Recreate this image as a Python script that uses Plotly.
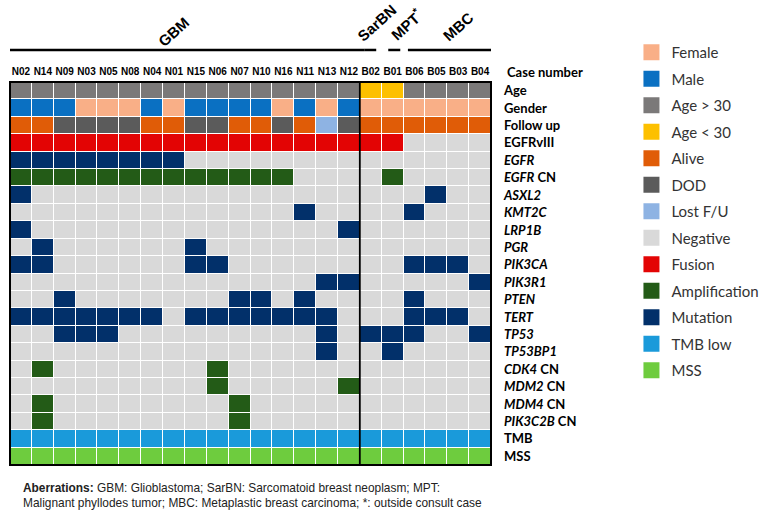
import plotly.graph_objects as go

cases = ["N02", "N14", "N09", "N03", "N05", "N08", "N04", "N01", "N15", "N06", "N07",
         "N10", "N16", "N11", "N13", "N12", "B02", "B01", "B06", "B05", "B03", "B04"]

row_labels = ["<b>Age</b>", "<b>Gender</b>", "<b>Follow up</b>", "<b>EGFRvIII</b>",
              "<b><i>EGFR</i></b>", "<b><i>EGFR</i> CN</b>", "<b><i>ASXL2</i></b>",
              "<b><i>KMT2C</i></b>", "<b><i>LRP1B</i></b>", "<b><i>PGR</i></b>",
              "<b><i>PIK3CA</i></b>", "<b><i>PIK3R1</i></b>", "<b><i>PTEN</i></b>",
              "<b><i>TERT</i></b>", "<b><i>TP53</i></b>", "<b><i>TP53BP1</i></b>",
              "<b><i>CDK4</i> CN</b>", "<b><i>MDM2</i> CN</b>", "<b><i>MDM4</i> CN</b>",
              "<b><i>PIK3C2B</i> CN</b>", "<b>TMB</b>", "<b>MSS</b>"]

# codes: F Female, M Male, O Age>30, Y Age<30, A Alive, D DOD, L Lost F/U,
# N Negative, X Fusion, P Amplification, U Mutation, T TMB low, S MSS
age        = list("OOOOOOOOOOOOOOOOYYOOOO")
gender     = list("MMMFFFMFMMMMFMFMFFFFFF")
followup   = list("AADDDDAADDAADALDAAAAAA")
egfrviii   = list("XXXXXXXXXXXXXXXXXXNNNN")
egfr       = list("UUUUUUUUNNNNNNNNNNNNNN")
egfr_cn    = list("PPPPPPPPPPPPPNNNNPNNNN")
asxl2      = list("UNNNNNNNNNNNNNNNNNNUNN")
kmt2c      = list("NNNNNNNNNNNNNUNNNNUNNN")
lrp1b      = list("UNNNNNNNNNNNNNNUNNNNNN")
pgr        = list("NUNNNNNNUNNNNNNNNNNNNN")
pik3ca     = list("UUNNNNNNUUNNNNNNNNUUUN")
pik3r1     = list("NNNNNNNNNNNNNNUUNNNNNU")
pten       = list("NNUNNNNNNNUUNUNNNNUNNN")
tert       = list("UUUUUUUNUUUUUUUNNNUUUN")
tp53       = list("NNUUUNNNNNNNNNUNUUUNNU")
tp53bp1    = list("NNNNNNNNNNNNNNUNNUNNNN")
cdk4_cn    = list("NPNNNNNNNPNNNNNNNNNNNN")
mdm2_cn    = list("NNNNNNNNNPNNNNNPNNNNNN")
mdm4_cn    = list("NPNNNNNNNNPNNNNNNNNNNN")
pik3c2b_cn = list("NPNNNNNNNNPNNNNNNNNNNN")
tmb        = list("TTTTTTTTTTTTTTTTTTTTTT")
mss        = list("SSSSSSSSSSSSSSSSSSSSSS")

rows = [age, gender, followup, egfrviii, egfr, egfr_cn, asxl2, kmt2c, lrp1b, pgr,
        pik3ca, pik3r1, pten, tert, tp53, tp53bp1, cdk4_cn, mdm2_cn, mdm4_cn,
        pik3c2b_cn, tmb, mss]

legend_codes = ["F", "M", "O", "Y", "A", "D", "L", "N", "X", "P", "U", "T", "S"]
legend_names = ["Female", "Male", "Age > 30", "Age < 30", "Alive", "DOD", "Lost F/U",
                "Negative", "Fusion", "Amplification", "Mutation", "TMB low", "MSS"]
legend_colors = ["#F9AF87", "#0A70C2", "#7B7979", "#FDC000", "#E05C07", "#5B5B5B",
                 "#8EB3E3", "#D9D9D9", "#E30404", "#235B17", "#02306A", "#1A9ADA",
                 "#6ECC3E"]

code_idx = {c: i for i, c in enumerate(legend_codes)}
z = [[code_idx[v] for v in r] for r in rows]
n = len(legend_codes)
colorscale = []
for i, c in enumerate(legend_colors):
    colorscale.append([i / n, c])
    colorscale.append([(i + 1) / n, c])

xs = list(range(len(cases)))
ys = list(range(len(rows)))

fig = go.Figure()
fig.add_trace(go.Heatmap(
    z=z, x=xs, y=ys, colorscale=colorscale, zmin=-0.5, zmax=n - 0.5,
    showscale=False, xgap=1, ygap=1, hoverinfo="skip", showlegend=False))

for name, col in zip(legend_names, legend_colors):
    fig.add_trace(go.Scatter(
        x=[None], y=[None], mode="markers", name=name, legendgroup=name,
        marker=dict(symbol="square", size=16, color=col)))

# frame and divider
fig.add_shape(type="rect", xref="paper", yref="paper", x0=0, x1=1, y0=0, y1=1,
              line=dict(color="black", width=2))
fig.add_shape(type="line", xref="x", yref="paper", x0=15.5, x1=15.5, y0=0, y1=1,
              line=dict(color="black", width=1.8))

# group lines
line_y = 1.0836
for x0, x1 in [(-0.5, 15.7), (16 - 0.3, 16 + 0.25), (17 - 0.2, 17 + 0.35), (17.7, 21.5)]:
    fig.add_shape(type="line", xref="x", yref="paper", x0=x0, x1=x1, y0=line_y, y1=line_y,
                  line=dict(color="black", width=2.5))

group_font = dict(family="Arial, Liberation Sans", size=15, color="black")
for txt, gx, gy in [("<b>GBM</b>", 7.0, 1.132), ("<b>SarBN</b>", 16.3, 1.155),
                    ("<b>MPT<sup>*</sup></b>", 17.65, 1.152), ("<b>MBC</b>", 20.0, 1.145)]:
    fig.add_annotation(text=txt, x=gx, y=gy, xref="x", yref="paper", showarrow=False,
                       textangle=-42, font=group_font, xanchor="center", yanchor="middle")

fig.add_annotation(text="<b>Case number</b>", x=1.0287, y=1.026, xref="paper", yref="paper",
                   showarrow=False, xanchor="left", yanchor="middle",
                   font=dict(family="Lato", size=13, color="black"))

fig.add_annotation(
    text="<b>Aberrations:</b> GBM: Glioblastoma; SarBN: Sarcomatoid breast neoplasm; MPT:<br>"
         "Malignant phyllodes tumor; MBC: Metaplastic breast carcinoma; *: outside consult case",
    x=0.0226, y=-0.036, xref="paper", yref="paper", showarrow=False, align="left",
    xanchor="left", yanchor="top",
    font=dict(family="Arial, Liberation Sans", size=11.9, color="#222"))

fig.update_layout(
    width=774, height=514,
    margin=dict(l=10, r=277, t=82, b=49),
    paper_bgcolor="white", plot_bgcolor="white",
    xaxis=dict(side="top", range=[-0.5, len(cases) - 0.5], tickvals=xs,
               ticktext=["<b>%s</b>" % c for c in cases], showgrid=False, zeroline=False,
               ticks="", ticklabelstandoff=4,
               tickfont=dict(family="Arial, Liberation Sans", size=10, color="black")),
    yaxis=dict(side="right", range=[len(rows) - 0.5, -0.5], tickvals=ys, ticktext=row_labels,
               showgrid=False, zeroline=False, ticks="", ticklabelstandoff=12,
               tickfont=dict(family="Lato", size=13, color="black")),
    legend=dict(x=1.292, xanchor="left", y=1.12, yanchor="top", traceorder="grouped",
                tracegroupgap=4, itemwidth=30, bgcolor="rgba(0,0,0,0)", maxheight=480,
                font=dict(family="Lato", size=15, color="#333")),
)

fig.write_html("out.html", post_script="document.body.style.margin='0';",
               config={"displayModeBar": False})
